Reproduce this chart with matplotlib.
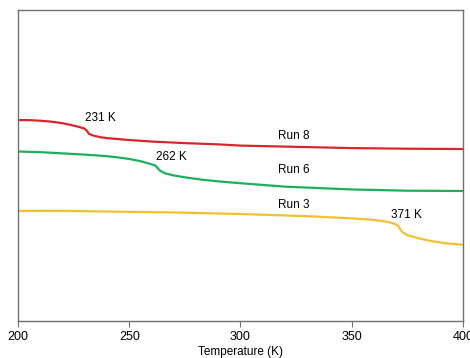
import matplotlib
matplotlib.use("Agg")
import matplotlib.pyplot as plt

plt.rcParams['font.family'] = ['Liberation Sans', 'DejaVu Sans']

# Temperature (K) and signal (arbitrary units, no y scale shown)
t8 = [200, 205, 210, 215, 220, 224, 228, 230, 231, 232, 234, 237, 240, 250, 260, 275, 290, 300, 325, 350, 375, 400]
run8 = [64.6, 64.6, 64.4, 64.1, 63.6, 63.0, 62.3, 61.8, 61.1, 60.1, 59.6, 59.1, 58.8, 58.2, 57.7, 57.2, 56.8, 56.4, 56.0, 55.6, 55.4, 55.3]

t6 = [200, 210, 220, 230, 240, 245, 250, 255, 258, 260, 262, 263, 264, 266, 270, 275, 282, 290, 300, 320, 350, 375, 400]
run6 = [54.5, 54.3, 53.9, 53.5, 53.0, 52.6, 52.1, 51.4, 50.8, 50.4, 49.9, 48.9, 48.3, 47.5, 46.8, 46.2, 45.5, 44.9, 44.3, 43.2, 42.3, 41.9, 41.8]

t3 = [200, 220, 240, 270, 300, 330, 350, 360, 365, 368, 370, 371, 372, 373, 375, 380, 385, 392, 400]
run3 = [35.4, 35.4, 35.2, 34.9, 34.4, 33.7, 33.0, 32.5, 32.0, 31.5, 31.0, 30.4, 29.2, 28.5, 27.6, 26.6, 25.8, 25.0, 24.5]

fig = plt.figure(figsize=(4.7, 3.58), dpi=100)
ax = fig.add_axes([0.0383, 0.1034, 0.9468, 0.8686])

ax.plot(t8, run8, color='#d7262b', lw=1.6)
ax.plot(t6, run6, color='#1fae5c', lw=1.6)
ax.plot(t3, run3, color='#f2c12e', lw=1.6)

ax.text(237, 65.3, '231 K', fontsize=8.5, ha='center', va='center')
ax.text(269, 52.7, '262 K', fontsize=8.5, ha='center', va='center')
ax.text(374.5, 34.1, '371 K', fontsize=8.5, ha='center', va='center')
ax.text(324, 59.5, 'Run 8', fontsize=8.5, ha='center', va='center')
ax.text(324, 48.6, 'Run 6', fontsize=8.5, ha='center', va='center')
ax.text(324, 37.3, 'Run 3', fontsize=8.5, ha='center', va='center')

ax.set_xlim(200, 400)
ax.set_ylim(0, 100)
ax.set_xticks([200, 250, 300, 350, 400])
ax.set_yticks([])
ax.tick_params(axis='x', direction='out', length=4, color='#707070', labelsize=9, pad=3)
for s in ax.spines.values():
    s.set_color('#707070')
    s.set_linewidth(1)
ax.set_xlabel('Temperature (K)', fontsize=8.5, labelpad=2.5)

fig.savefig('out.png', dpi=100)
